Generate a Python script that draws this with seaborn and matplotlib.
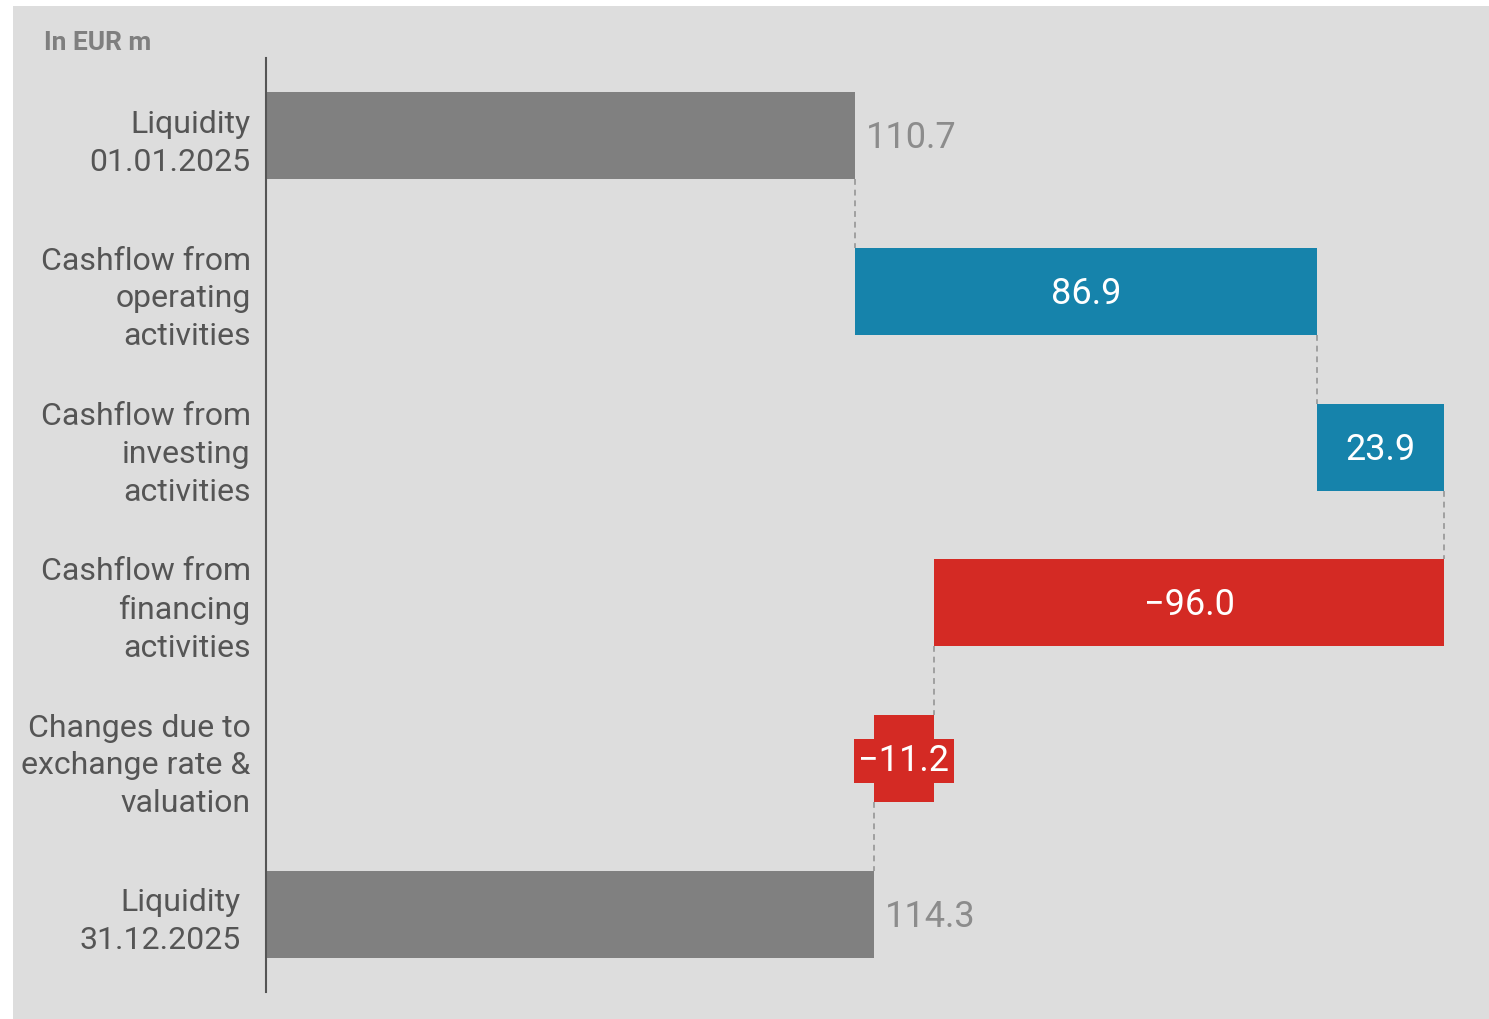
import matplotlib
matplotlib.use("Agg")
import matplotlib.pyplot as plt
import seaborn as sns
import pandas as pd
import numpy as np
from matplotlib.patches import Rectangle
from matplotlib.transforms import ScaledTranslation

categories = ["Liquidity\n01.01.2025", "Cashflow from\noperating\nactivities",
              "Cashflow from\ninvesting\nactivities", "Cashflow from\nfinancing\nactivities",
              "Changes due to\nexchange rate &\nvaluation", "Liquidity\n31.12.2025"]
values = [110.7, 86.9, 23.9, -96.0, -11.2, 114.3]
labels = ["110.7", "86.9", "23.9", "\u221296.0", "\u221211.2", "114.3"]
kinds = ["total", "delta", "delta", "delta", "delta", "total"]

GRAY, BLUE, RED = "#808080", "#1683ab", "#d42a24"
BG = "#dddddd"

# starts of each bar
starts = []
run = 0.0
for v, k in zip(values, kinds):
    if k == "total":
        starts.append(0.0)
        run = v
    else:
        starts.append(run)
        run += v
colors = [GRAY if k == "total" else (BLUE if v >= 0 else RED) for v, k in zip(values, kinds)]

df = pd.DataFrame({"cat": categories, "val": values})

sns.set_theme(style="white")
plt.rcParams["font.family"] = ["Roboto", "DejaVu Sans"]

fig = plt.figure(figsize=(14.89, 10.19), dpi=100, facecolor="white")
fig.patches.append(Rectangle((13 / 1489, 0), 1 - 13 / 1489, 1 - 6 / 1019,
                             transform=fig.transFigure, facecolor=BG, edgecolor="none", zorder=-10))
ax = fig.add_axes([266 / 1489, 1 - 992 / 1019, (1470 - 266) / 1489, (992 - 58) / 1019])
ax.set_facecolor("none")

sns.barplot(data=df, x="val", y="cat", hue="cat", palette=colors, order=categories,
            hue_order=categories, width=0.56, legend=False, ax=ax, saturation=1, dodge=False)

for p in ax.patches:
    i = int(round(p.get_y() + p.get_height() / 2))
    p.set_x(starts[i])
    p.set_width(values[i])
    p.set_edgecolor("none")

ax.set_xlim(0, (1470 - 266) / 5.32)
ax.set_ylim(5.5, -0.5)

# connectors
h = 0.56 / 2
for i in range(len(values) - 1):
    end = starts[i] + values[i]
    ax.plot([end, end], [i + h, i + 1 - h], ls=(0, (3, 2.5)), color="#a0a0a0", lw=1.4, zorder=0)

# value labels
down = ax.transData + ScaledTranslation(0, -0.025, fig.dpi_scale_trans)
for i, (s, v, lab, k) in enumerate(zip(starts, values, labels, kinds)):
    if k == "total":
        ax.text(s + v + 2, i, lab, va="center", ha="left", fontsize=26, color="#8c8c8c",
                transform=down)
    elif abs(v) < 15:
        ax.text(s + v / 2, i, lab, va="center", ha="center", fontsize=26, color="white",
                transform=down,
                bbox=dict(boxstyle="square,pad=0.12", facecolor=RED, edgecolor="none"))
    else:
        ax.text(s + v / 2, i, lab, va="center", ha="center", fontsize=26, color="white",
                transform=down)

ax.set_xlabel("")
ax.set_ylabel("")
ax.set_xticks([])
for sp in ["top", "right", "bottom"]:
    ax.spines[sp].set_visible(False)
ax.spines["left"].set_color("#555555")
ax.spines["left"].set_linewidth(1.5)
ax.tick_params(axis="y", length=0, pad=11, labelsize=23, labelcolor="#555555")
for t in ax.get_yticklabels():
    t.set_linespacing(1.38)
last = ax.get_yticklabels()[-1]
last.set_transform(last.get_transform() + ScaledTranslation(-0.1, 0, fig.dpi_scale_trans))

fig.text(44 / 1489, 1 - 43 / 1019, "In EUR m", fontsize=19, fontweight="bold",
         color="#7f7f7f", va="center", ha="left")

fig.savefig("out.png", dpi=100, facecolor="white")
